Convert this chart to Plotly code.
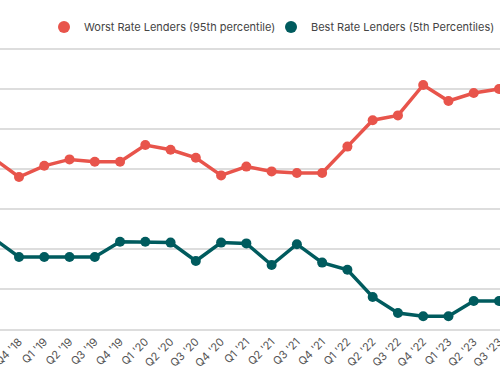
import plotly.graph_objects as go

quarters = ["Q3 '18", "Q4 '18", "Q1 '19", "Q2 '19", "Q3 '19", "Q4 '19",
            "Q1 '20", "Q2 '20", "Q3 '20", "Q4 '20", "Q1 '21", "Q2 '21",
            "Q3 '21", "Q4 '21", "Q1 '22", "Q2 '22", "Q3 '22", "Q4 '22",
            "Q1 '23", "Q2 '23", "Q3 '23"]

worst_rate = [5.13, 4.90, 5.04, 5.12, 5.09, 5.09, 5.30, 5.24, 5.14, 4.92,
              5.03, 4.97, 4.95, 4.95, 5.28, 5.61, 5.67, 6.05, 5.85, 5.95, 6.00]

best_rate = [4.13, 3.90, 3.90, 3.90, 3.90, 4.09, 4.09, 4.08, 3.85, 4.08,
             4.07, 3.80, 4.06, 3.83, 3.74, 3.40, 3.20, 3.16, 3.16, 3.35, 3.35]

names = ["Worst Rate Lenders (95th percentile)", "Best Rate Lenders (5th Percentiles)"]
colors = ["#E8544B", "#005B5E"]
legend_ids = ["legend", "legend2"]

x_idx = list(range(len(quarters)))

fig = go.Figure()
for vals, name, col, lg in zip([worst_rate, best_rate], names, colors, legend_ids):
    fig.add_trace(go.Scatter(
        x=x_idx, y=vals, name=name, mode="lines+markers",
        line=dict(color=col, width=3.5),
        marker=dict(color=col, size=10),
        showlegend=False, legendgroup=name,
    ))
    # legend entry shown as a dot only, as in the original
    fig.add_trace(go.Scatter(
        x=[None], y=[None], name=name, mode="markers",
        marker=dict(color=col, size=11),
        legend=lg, legendgroup=name, showlegend=True,
    ))

legend_style = dict(orientation="h", xanchor="left", y=1.071, yanchor="middle",
                    font=dict(size=11, color="#444444"),
                    itemsizing="constant", bgcolor="rgba(0,0,0,0)")

fig.update_layout(
    width=500, height=383,
    margin=dict(l=0, r=0, t=47, b=54, autoexpand=False),
    paper_bgcolor="white", plot_bgcolor="white",
    font=dict(family="Inter, Lato, sans-serif", size=11, color="#444444"),
    showlegend=True,
    legend=dict(x=44 / 500, **legend_style),
    legend2=dict(x=271 / 500, **legend_style),
    xaxis=dict(
        range=[0.248, 20.04], automargin=False,
        tickmode="array", tickvals=x_idx, ticktext=quarters,
        tickangle=-45, showgrid=False, zeroline=False,
        showline=True, linecolor="#DDDDDD", linewidth=2,
        ticks="", tickfont=dict(size=11, color="#555555"),
        ticklabeloverflow="allow",
    ),
    yaxis=dict(
        range=[3.0, 6.525], tickmode="array",
        tickvals=[3.0, 3.5, 4.0, 4.5, 5.0, 5.5, 6.0, 6.5],
        showgrid=True, gridcolor="#DDDDDD",
        gridwidth=1.5, zeroline=False, showticklabels=False, ticks="",
        automargin=False,
    ),
)

fig.write_html("out.html", config={"displayModeBar": False},
               post_script="document.body.style.margin='0';")
